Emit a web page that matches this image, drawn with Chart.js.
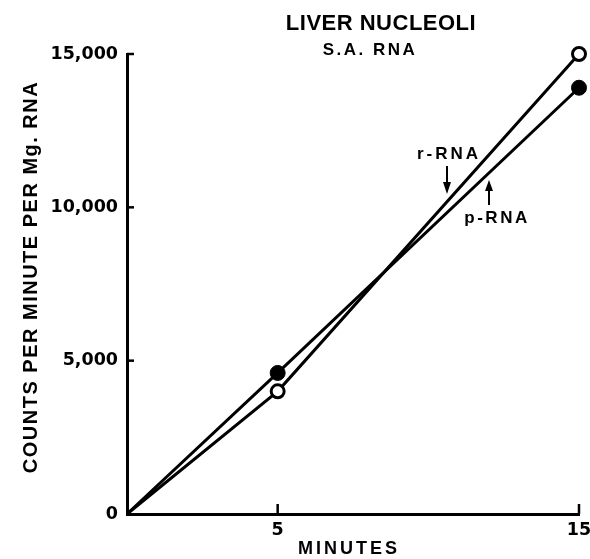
<!DOCTYPE html>
<html>
<head>
<meta charset="utf-8">
<script src="https://cdn.jsdelivr.net/npm/chart.js@4.4.1/dist/chart.umd.min.js"></script>
<style>
  html, body { margin: 0; padding: 0; background: #fff; }
</style>
</head>
<body>
<canvas id="chart" width="590" height="559"></canvas>
<script>
// Liver nucleoli, S.A. RNA - counts per minute per mg RNA vs minutes
const minutes = [0, 5, 15];
const rRNA = [0, 4000, 15000];   // open circles
const pRNA = [0, 4600, 13900];   // filled circles
const xTicks = [5, 15];
const yTicks = [0, 5000, 10000, 15000];

const TICK_FONT = '"DejaVu Sans", sans-serif';
const LABEL_FONT = '"Liberation Sans", Arial, sans-serif';

function toPoints(ys) {
    return minutes.map((m, i) => ({ x: m, y: ys[i] }));
}

// titles, labels, arrows and inward tick marks
const decorations = {
    id: 'decorations',
    afterDraw(chart) {
        const { ctx, scales: { x, y } } = chart;
        ctx.save();
        ctx.strokeStyle = '#000';
        ctx.fillStyle = '#000';
        ctx.lineWidth = 2.5;

        // tick marks pointing into the plot
        xTicks.forEach(v => {
            const px = x.getPixelForValue(v);
            ctx.beginPath();
            ctx.moveTo(px, y.bottom);
            ctx.lineTo(px, y.bottom - 10);
            ctx.stroke();
        });
        yTicks.slice(1).forEach(v => {
            const py = y.getPixelForValue(v);
            ctx.beginPath();
            ctx.moveTo(x.left, py);
            ctx.lineTo(x.left + 7, py);
            ctx.stroke();
        });

        ctx.textAlign = 'center';
        ctx.textBaseline = 'middle';

        // title
        ctx.font = 'bold 22px ' + LABEL_FONT;
        ctx.letterSpacing = '0.5px';
        ctx.fillText('LIVER NUCLEOLI', 381, 24);
        ctx.font = 'bold 17px ' + LABEL_FONT;
        ctx.letterSpacing = '2.5px';
        ctx.fillText('S.A. RNA', 370, 50);

        // axis titles
        ctx.font = 'bold 18px ' + LABEL_FONT;
        ctx.letterSpacing = '3px';
        ctx.fillText('MINUTES', 349, 549);

        ctx.save();
        ctx.translate(31, 277);
        ctx.rotate(-Math.PI / 2);
        ctx.font = 'bold 20px ' + LABEL_FONT;
        ctx.letterSpacing = '1.5px';
        ctx.fillText('COUNTS PER MINUTE PER Mg. RNA', 0, 0);
        ctx.restore();

        // series labels with arrows
        ctx.font = 'bold 17px ' + LABEL_FONT;
        ctx.letterSpacing = '3px';
        ctx.fillText('r-RNA', 449, 154);
        ctx.letterSpacing = '2.5px';
        ctx.fillText('p-RNA', 497, 218);

        ctx.lineWidth = 2;
        // r-RNA arrow (down)
        ctx.beginPath();
        ctx.moveTo(447, 166);
        ctx.lineTo(447, 188);
        ctx.stroke();
        ctx.beginPath();
        ctx.moveTo(443, 182);
        ctx.lineTo(447, 194);
        ctx.lineTo(451, 182);
        ctx.closePath();
        ctx.fill();
        // p-RNA arrow (up)
        ctx.beginPath();
        ctx.moveTo(489, 186);
        ctx.lineTo(489, 205);
        ctx.stroke();
        ctx.beginPath();
        ctx.moveTo(485, 191);
        ctx.lineTo(489, 180);
        ctx.lineTo(493, 191);
        ctx.closePath();
        ctx.fill();

        ctx.restore();
    }
};

const config = {
    type: 'scatter',
    data: {
        datasets: [
            {
                label: 'r-RNA',
                data: toPoints(rRNA),
                showLine: true,
                borderColor: '#000',
                borderWidth: 3,
                pointRadius: [0, 6.5, 6.5],
                pointBackgroundColor: '#fff',
                pointBorderColor: '#000',
                pointBorderWidth: 3,
                clip: false
            },
            {
                label: 'p-RNA',
                data: toPoints(pRNA),
                showLine: true,
                borderColor: '#000',
                borderWidth: 3,
                pointRadius: [0, 7.5, 7.5],
                pointBackgroundColor: '#000',
                pointBorderColor: '#000',
                pointBorderWidth: 1,
                clip: false
            }
        ]
    },
    options: {
        responsive: false,
        animation: false,
        layout: {
            padding: { top: 54, right: 11, left: 0, bottom: 0 }
        },
        plugins: {
            legend: { display: false },
            tooltip: { enabled: false }
        },
        scales: {
            x: {
                type: 'linear',
                min: 0,
                max: 15,
                afterBuildTicks: scale => {
                    scale.ticks = xTicks.map(v => ({ value: v }));
                },
                afterFit: scale => {
                    scale.height = 45;
                    scale.paddingLeft = 0;
                    scale.paddingRight = 0;
                },
                grid: { drawOnChartArea: false, drawTicks: false },
                border: { display: true, color: '#000', width: 3 },
                ticks: {
                    color: '#000',
                    padding: 6,
                    maxRotation: 0,
                    font: { family: TICK_FONT, size: 17.5, weight: 'bold' }
                }
            },
            y: {
                min: 0,
                max: 15000,
                afterBuildTicks: scale => {
                    scale.ticks = yTicks.map(v => ({ value: v }));
                },
                afterFit: scale => { scale.width = 127; },
                grid: { drawOnChartArea: false, drawTicks: false },
                border: { display: true, color: '#000', width: 3 },
                ticks: {
                    color: '#000',
                    padding: 9,
                    font: { family: TICK_FONT, size: 17.5, weight: 'bold' },
                    callback: v => v.toLocaleString('en-US')
                }
            }
        }
    },
    plugins: [decorations]
};

new Chart(document.getElementById('chart').getContext('2d'), config);
</script>
</body>
</html>
